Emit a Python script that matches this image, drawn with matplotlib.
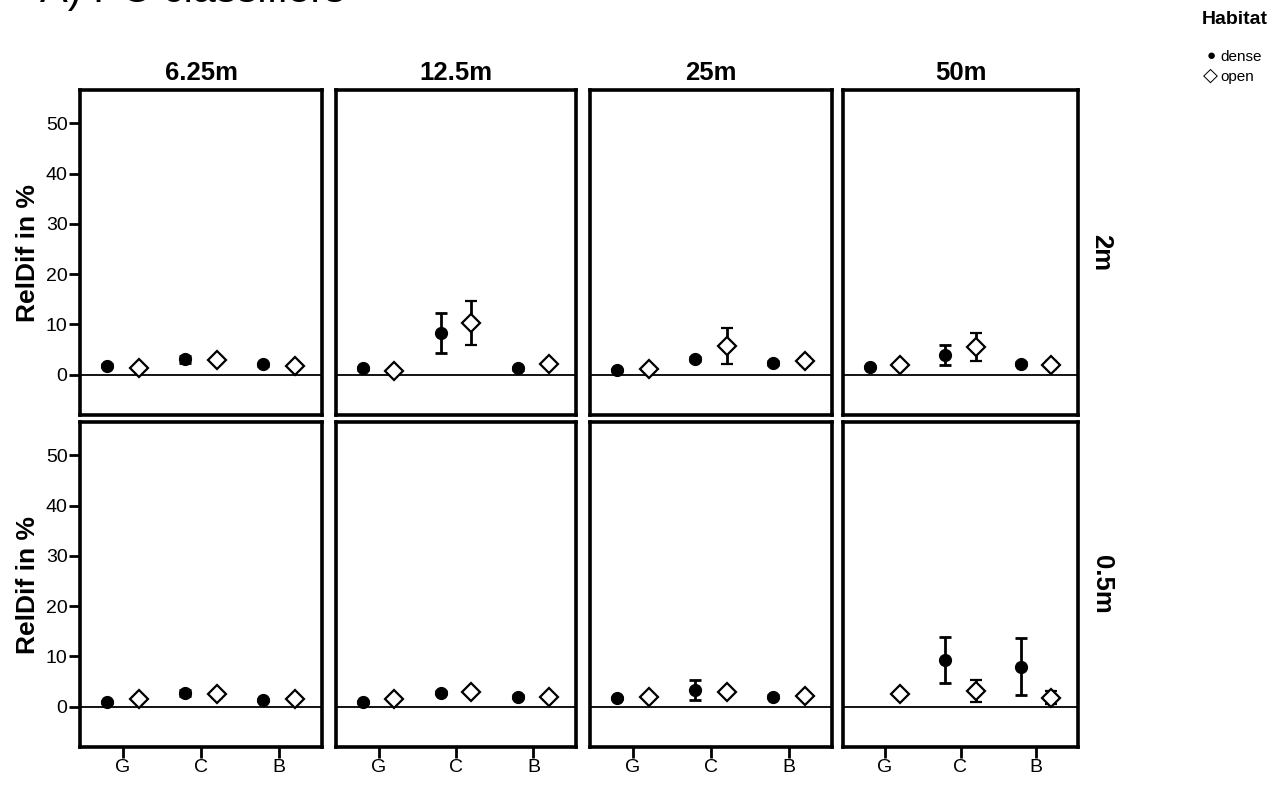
import numpy as np
import matplotlib.pyplot as plt

plt.rcParams['font.family'] = ['Liberation Sans', 'DejaVu Sans']

# Daten
kategorien = ["G", "C", "B"]
aufloesungen = ["6.25m", "12.5m", "25m", "50m"]
hoehen = ["2m", "0.5m"]

# Mittelwerte [hoehe][aufloesung][kategorie]
dense_2m = [[1.8, 3.1, 2.1], [1.3, 8.3, 1.3], [0.9, 3.1, 2.3], [1.5, 3.9, 2.2]]
dense_2m_err = [[0.3, 0.7, 0.3], [0.3, 3.9, 0.3], [0.2, 0.4, 0.4], [0.2, 2.0, 0.3]]
open_2m = [[1.3, 3.0, 1.7], [0.8, 10.3, 2.1], [1.1, 5.7, 2.8], [1.9, 5.5, 1.9]]
open_2m_err = [[0.4, 0.5, 0.5], [0.5, 4.4, 0.5], [0.6, 3.5, 0.8], [0.6, 2.75, 0.8]]

dense_05m = [[1.0, 2.8, 1.3], [1.0, 2.8, 2.0], [1.7, 3.3, 2.0], [np.nan, 9.3, 8.0]]
dense_05m_err = [[0.2, 0.6, 0.2], [0.2, 0.3, 0.3], [0.2, 2.0, 0.3], [np.nan, 4.65, 5.6]]
open_05m = [[1.5, 2.5, 1.5], [1.5, 3.0, 1.9], [1.9, 3.0, 2.2], [2.5, 3.2, 1.8]]
open_05m_err = [[0.5, 0.7, 0.6], [0.5, 0.6, 0.5], [0.6, 0.6, 0.6], [0.6, 2.2, 1.3]]

dense = [dense_2m, dense_05m]
dense_err = [dense_2m_err, dense_05m_err]
offen = [open_2m, open_05m]
offen_err = [open_2m_err, open_05m_err]

fig = plt.figure(figsize=(12.73, 7.86), dpi=100)
W, H = 1273, 786

# Panelpositionen in Pixeln
lefts = [80, 336, 590, 843]
breiten = [242, 240, 242, 235]
tops = [90, 422]
hoehe_px = 325

x = np.arange(3)
for r in range(2):
    for c in range(4):
        ax = fig.add_axes([lefts[c] / W, 1 - (tops[r] + hoehe_px) / H, breiten[c] / W, hoehe_px / H])
        ax.axhline(0, color='black', lw=1.3, zorder=1)
        ax.errorbar(x - 0.2, dense[r][c], yerr=dense_err[r][c], fmt='o', color='black',
                    ms=8.5, elinewidth=2, capsize=4.5, capthick=2, zorder=3)
        ax.errorbar(x + 0.2, offen[r][c], yerr=offen_err[r][c], fmt='D', color='black',
                    mfc='white', mec='black', mew=1.6, ms=9.5, elinewidth=2,
                    capsize=4.5, capthick=2, zorder=3)
        ax.set_xlim(-0.55, 2.55)
        ax.set_ylim(-8, 56.6)
        for s in ax.spines.values():
            s.set_linewidth(2.6)
        ax.tick_params(direction='out', width=2, length=8, labelsize=14, pad=1)
        ax.set_yticks([0, 10, 20, 30, 40, 50])
        ax.set_xticks(x)
        ax.set_xticklabels(kategorien)
        if c != 0:
            ax.tick_params(axis='y', left=False, labelleft=False)
        else:
            ax.set_ylabel("RelDif in %", fontsize=19, fontweight='bold', labelpad=4)
        if r != 1:
            ax.tick_params(axis='x', bottom=False, labelbottom=False)
        if r == 0:
            ax.set_title(aufloesungen[c], fontsize=18.5, fontweight='bold', pad=7)
        if c == 3:
            ax.text(1.1, 0.5, hoehen[r], transform=ax.transAxes, rotation=-90,
                    fontsize=18.5, fontweight='bold', va='center', ha='center')

# abgeschnittener Titel oben
fig.text(40 / W, 1 - 2 / H, "A) PC classifiers", fontsize=30, va='baseline', ha='left')

# Legende
fig.text(1268 / W, 1 - 20 / H, "Habitat", fontsize=14, fontweight='bold', ha='right', va='center')
fig.text(1211 / W, 1 - 56 / H, "\u25CF", fontsize=11, ha='center', va='center')
fig.text(1220 / W, 1 - 57 / H, "dense", fontsize=11, ha='left', va='center')
fig.text(1210 / W, 1 - 76 / H, "\u25C7", fontsize=14, ha='center', va='center')
fig.text(1220 / W, 1 - 77 / H, "open", fontsize=11, ha='left', va='center')

plt.savefig("out.png", dpi=100)
